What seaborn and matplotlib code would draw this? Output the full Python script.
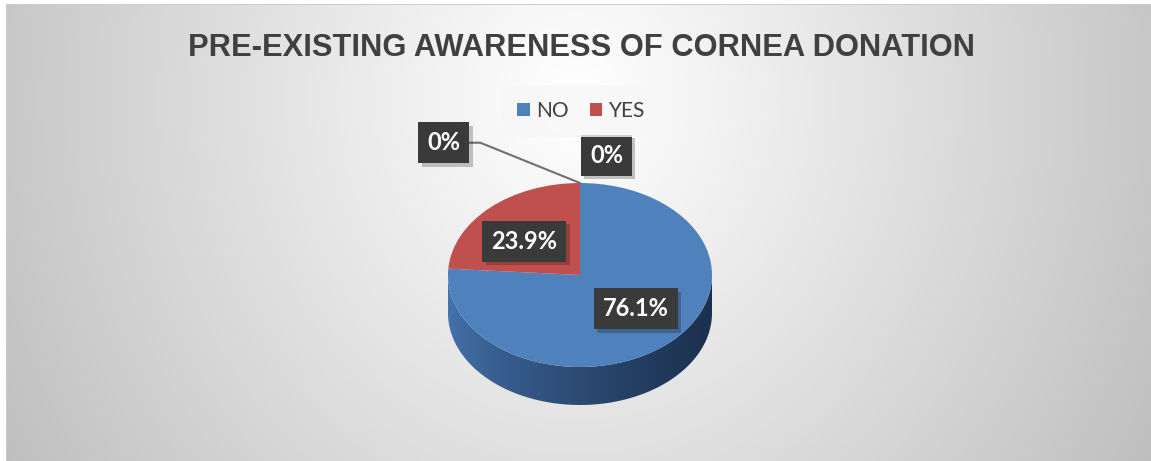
import numpy as np
import matplotlib
matplotlib.use("Agg")
import matplotlib.pyplot as plt
import matplotlib.patheffects as pe
from matplotlib.patches import Rectangle, Polygon
import seaborn as sns

# ---------------- data ----------------
categories = ["NO", "YES"]
values = [76.1, 23.9]
value_labels = ["76.1%", "23.9%"]
zero_labels = ["0%", "0%"]
colors = ["#4f81bd", "#c0504d"]
title = "PRE-EXISTING AWARENESS OF CORNEA DONATION"

sns.set_theme(style="white")
plt.rcParams["font.family"] = ["DejaVu Sans"]

W, H = 1151, 461
fig = plt.figure(figsize=(W / 100, H / 100), dpi=100)
fig.patch.set_facecolor("white")

# ---------------- background (radial gradient) ----------------
bg = fig.add_axes([0, 0, 1, 1])
bg.set_xlim(0, W)
bg.set_ylim(H, 0)
bg.axis("off")
yy, xx = np.mgrid[0:H, 0:W]
r = np.sqrt(((xx - 575) / 570.0) ** 2 + ((yy - 100) / 630.0) ** 2)
val = np.clip(255 - 55 * r ** 1.05, 150, 255) / 255.0
img = np.dstack([val, val, val])
img[:5, :, :] = 1.0
img[:, :6, :] = 1.0
img[5, 6:, :] = 0.80
img[5:, 6, :] = 0.80
bg.imshow(img, extent=(0, W, H, 0), interpolation="bilinear", zorder=0)

# title
fig.text(581 / W, 1 - 48 / H, title, ha="center", va="center",
         fontsize=22.2, fontweight="bold", color="#404040",
         family=["Liberation Sans", "DejaVu Sans"])

# ---------------- pie axes ----------------
cx, cy, rx, ry = 580, 275, 132, 92
ax = fig.add_axes([(cx - 2 * rx) / W, 1 - (cy + 2 * ry) / H, 4 * rx / W, 4 * ry / H])
depth = 38 / ry

# side wall with gradient
t = np.linspace(np.pi, 2 * np.pi, 200)
xs = np.cos(t)
top = np.sin(t)
bot = np.sin(t) - depth
poly_xy = np.concatenate([np.column_stack([xs, top]), np.column_stack([xs[::-1], bot[::-1]])])
side = Polygon(poly_xy, closed=True, facecolor="none", edgecolor="none")
ax.add_patch(side)
gx = np.linspace(-1, 1, 300)
c0 = np.array([0x45, 0x74, 0xae]) / 255
c1 = np.array([0x1c, 0x30, 0x4e]) / 255
f = np.clip((gx + 1) / 2, 0, 1) ** 0.7
grad = (c0[None, :] * (1 - f[:, None]) + c1[None, :] * f[:, None])[None, :, :]
gimg = ax.imshow(grad, extent=(-1, 1, -1 - depth, 0), aspect="auto", zorder=1)
gimg.set_clip_path(side)

wedges, _ = ax.pie(values, colors=colors, startangle=90, counterclock=False,
                   wedgeprops=dict(linewidth=0), radius=1)
for w in wedges:
    w.set_zorder(2)
ax.set_aspect("auto")
ax.set_xlim(-2, 2)
ax.set_ylim(-2, 2)
ax.axis("off")

label_kw = dict(ha="center", va="center", fontsize=17, fontweight="bold", color="white",
                family=["Lato", "DejaVu Sans"], zorder=5,
                bbox=dict(boxstyle="square,pad=0.38", facecolor="#3a3a3a", edgecolor="none"))
shadow = [pe.withSimplePatchShadow(offset=(2.5, -2.5), shadow_rgbFace="black", alpha=0.22)]


def style(tx):
    tx.get_bbox_patch().set_path_effects(shadow)


# value labels at mid-angles
for wdg, lab in zip(wedges, value_labels):
    ang = np.deg2rad((wdg.theta1 + wdg.theta2) / 2)
    tx = ax.text(0.62 * np.cos(ang), 0.5 * np.sin(ang), lab, **label_kw)
    style(tx)

# zero labels at the slice boundary (top of pie)
start = np.deg2rad(90)
px, py = np.cos(start), np.sin(start)
a1 = ax.annotate(zero_labels[0], xy=(px, py), xytext=(-98, 29), textcoords="offset points",
                 arrowprops=dict(arrowstyle="-", color="#707070", lw=1.5,
                                 connectionstyle="angle,angleA=0,angleB=-22,rad=0",
                                 shrinkA=0, shrinkB=0, relpos=(1, 0.5)),
                 **label_kw)
style(a1)
a2 = ax.annotate(zero_labels[1], xy=(px, py), xytext=(19, 20), textcoords="offset points",
                 **label_kw)
style(a2)

# legend
handles = [Rectangle((0, 0), 1, 1, facecolor=c, edgecolor="none") for c in colors]
leg = fig.legend(handles, categories, loc="center", bbox_to_anchor=(581 / W, 1 - 111 / H),
                 ncol=2, frameon=True, handlelength=0.62, handleheight=0.62,
                 handletextpad=0.3, columnspacing=1.0, borderpad=0.75,
                 prop=dict(family=["Lato", "DejaVu Sans"], size=15))
leg.get_frame().set_facecolor("#f7f7f7")
leg.get_frame().set_edgecolor("none")
leg.get_frame().set_alpha(0.8)
leg.get_frame().set_boxstyle("square", pad=0)
for tx in leg.get_texts():
    tx.set_color("#404040")

fig.savefig("out.png", dpi=100)
